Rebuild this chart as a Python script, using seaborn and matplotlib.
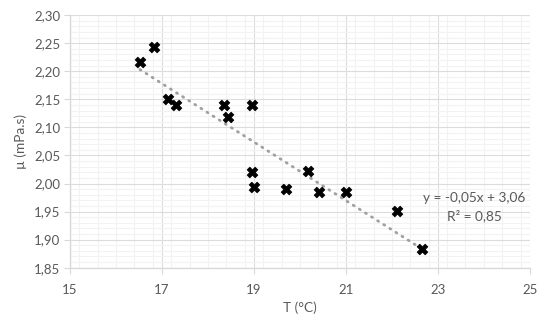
import numpy as np
import pandas as pd
import seaborn as sns
import matplotlib.pyplot as plt
from matplotlib.ticker import FuncFormatter, MultipleLocator

# valeurs
temperature = [16.52, 16.83, 17.12, 17.31, 18.35, 18.43, 18.96, 18.95, 19.01,
               19.69, 20.17, 20.41, 21.01, 22.10, 22.66]
viscosite = [2.216, 2.243, 2.151, 2.139, 2.139, 2.119, 2.139, 2.021, 1.993,
             1.991, 2.022, 1.985, 1.984, 1.951, 1.883]
x_ticks = [15, 17, 19, 21, 23, 25]
y_ticks = [1.85, 1.90, 1.95, 2.00, 2.05, 2.10, 2.15, 2.20, 2.25, 2.30]

df = pd.DataFrame({'T': temperature, 'mu': viscosite})

sns.set_style('white')
plt.rcParams['font.family'] = ['Lato', 'DejaVu Sans']

fig = plt.figure(figsize=(5.39, 3.21), dpi=100)
ax = fig.add_axes([0.130, 0.166, 0.853, 0.787])

gris = '#595959'
ax.set_xlim(15, 25)
ax.set_ylim(1.85, 2.30)
ax.set_xticks(x_ticks)
ax.set_yticks(y_ticks)
ax.xaxis.set_minor_locator(MultipleLocator(0.4))
ax.yaxis.set_minor_locator(MultipleLocator(0.01))
ax.grid(which='major', color='#dcdcdc', linewidth=0.8)
ax.grid(which='minor', color='#f2f2f2', linewidth=0.8)
ax.set_axisbelow(True)

virgule = lambda v, p: f'{v:.2f}'.replace('.', ',')
ax.yaxis.set_major_formatter(FuncFormatter(virgule))
ax.xaxis.set_major_formatter(FuncFormatter(lambda v, p: f'{v:.0f}'))
ax.tick_params(axis='both', which='major', length=4, color='#d9d9d9',
               labelsize=9.5, labelcolor=gris, pad=3)
ax.tick_params(axis='both', which='minor', length=0)
ax.tick_params(axis='x', bottom=True, pad=8)
ax.tick_params(axis='y', left=True)

for s in ['top', 'right']:
    ax.spines[s].set_visible(False)
for s in ['left', 'bottom']:
    ax.spines[s].set_color('#d9d9d9')
    ax.spines[s].set_linewidth(1.0)

sns.regplot(data=df, x='T', y='mu', ax=ax, scatter=False, ci=None,
            line_kws=dict(color='#a0a0a0', linestyle=(0, (0.4, 2.2)),
                          linewidth=2, dash_capstyle='round'))
sns.scatterplot(data=df, x='T', y='mu', ax=ax, marker='X', s=60,
                color='black', edgecolor='black', linewidth=0.5, zorder=5)

pente, origine = np.polyfit(df['T'], df['mu'], 1)
r2 = np.corrcoef(df['T'], df['mu'])[0, 1] ** 2
eq = f'y = {pente:.2f}x + {origine:.2f}'.replace('.', ',')
ax.text(23.8, 1.958, eq + '\n' + f'R² = {r2:.2f}'.replace('.', ','),
        ha='center', va='center', fontsize=9.8, color=gris, linespacing=1.45)

ax.set_xlabel('T (°C)', fontsize=9.8, color=gris, labelpad=4)
ax.set_ylabel('µ (mPa.s)', fontsize=9.8, color=gris, labelpad=5)

fig.savefig('out.png', dpi=100, facecolor='white')
